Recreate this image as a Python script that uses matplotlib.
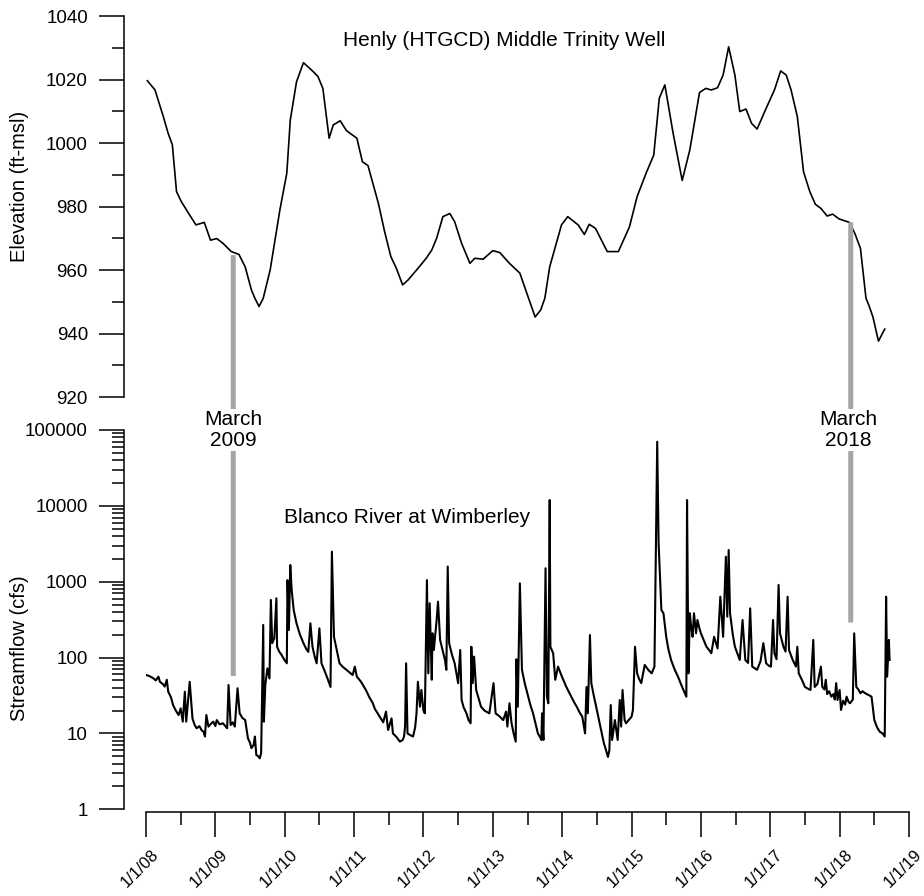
import matplotlib
matplotlib.use("Agg")
import matplotlib.pyplot as plt
import matplotlib.ticker as ticker
import matplotlib.transforms as mtransforms
from matplotlib.patches import ConnectionPatch

plt.rcParams['font.family'] = ['Liberation Sans', 'DejaVu Sans']

# Henly (HTGCD) well, decimal year vs elevation (ft-msl)
well_year = [2008.02, 2008.13, 2008.25, 2008.32, 2008.38, 2008.44, 2008.51, 2008.63, 2008.72, 2008.84,
             2008.93, 2009.02, 2009.11, 2009.23, 2009.34, 2009.43, 2009.52, 2009.57, 2009.63, 2009.69,
             2009.79, 2009.93, 2010.03, 2010.08, 2010.17, 2010.27, 2010.41, 2010.48, 2010.55, 2010.64,
             2010.70, 2010.80, 2010.89, 2011.04, 2011.12, 2011.20, 2011.35, 2011.44, 2011.53, 2011.61,
             2011.70, 2011.78, 2011.92, 2012.04, 2012.12, 2012.19, 2012.28, 2012.38, 2012.45, 2012.55,
             2012.67, 2012.74, 2012.86, 2013.00, 2013.10, 2013.24, 2013.39, 2013.49, 2013.61, 2013.69,
             2013.75, 2013.82, 2013.99, 2014.08, 2014.23, 2014.32, 2014.39, 2014.48, 2014.65, 2014.81,
             2014.97, 2015.08, 2015.21, 2015.32, 2015.40, 2015.48, 2015.60, 2015.73, 2015.84, 2015.98,
             2016.07, 2016.15, 2016.24, 2016.32, 2016.40, 2016.49, 2016.56, 2016.65, 2016.73, 2016.81,
             2016.94, 2017.06, 2017.15, 2017.23, 2017.30, 2017.39, 2017.48, 2017.57, 2017.65, 2017.73,
             2017.82, 2017.90, 2017.99, 2018.14, 2018.22, 2018.30, 2018.38, 2018.42, 2018.48, 2018.56,
             2018.65]
well_elev = [1019.6, 1016.7, 1008.3, 1003.0, 999.4, 984.7, 981.5, 977.3, 974.2, 975.0,
             969.4, 969.9, 968.4, 965.8, 964.9, 961.0, 953.7, 951.1, 948.5, 951.1,
             960.0, 978.9, 990.5, 1007.2, 1019.3, 1025.3, 1022.5, 1020.9, 1017.2, 1001.5,
             1005.7, 1007.0, 1003.9, 1001.5, 994.1, 992.9, 981.0, 972.1, 964.2, 960.5,
             955.3, 956.9, 960.5, 963.7, 966.3, 970.0, 976.8, 977.8, 975.2, 968.4,
             962.1, 963.7, 963.4, 966.1, 965.5, 962.1, 959.0, 952.7, 945.2, 947.4,
             951.1, 961.0, 974.2, 976.8, 974.2, 971.2, 974.4, 973.1, 965.8, 965.8,
             973.6, 983.1, 990.5, 996.2, 1014.1, 1018.3, 1003.0, 988.2, 997.8, 1015.9,
             1017.2, 1016.7, 1017.4, 1021.4, 1030.3, 1021.4, 1009.9, 1010.7, 1006.2, 1004.4,
             1010.9, 1016.7, 1022.7, 1021.4, 1016.7, 1008.3, 990.9, 984.7, 980.7, 979.4,
             977.0, 977.6, 976.1, 975.0, 971.5, 966.8, 951.1, 949.0, 945.2, 937.6,
             941.4]

# Blanco River at Wimberley, decimal year vs streamflow (cfs)
flow_year = [2008.00, 2008.05, 2008.08, 2008.11, 2008.14, 2008.18, 2008.20, 2008.24, 2008.27, 2008.30,
             2008.32, 2008.36, 2008.39, 2008.43, 2008.47, 2008.50, 2008.53, 2008.56, 2008.58, 2008.63,
             2008.67, 2008.70, 2008.73, 2008.77, 2008.80, 2008.83, 2008.85, 2008.87, 2008.90, 2008.94,
             2008.97, 2009.00, 2009.02, 2009.06, 2009.11, 2009.14, 2009.17, 2009.19, 2009.22, 2009.25,
             2009.28, 2009.32, 2009.35, 2009.39, 2009.43, 2009.47, 2009.50, 2009.52, 2009.55, 2009.57,
             2009.59, 2009.62, 2009.64, 2009.66, 2009.69, 2009.70, 2009.72, 2009.75, 2009.78, 2009.80,
             2009.82, 2009.85, 2009.88, 2009.89, 2009.92, 2009.95, 2009.99, 2010.03, 2010.04, 2010.06,
             2010.08, 2010.10, 2010.13, 2010.17, 2010.22, 2010.27, 2010.31, 2010.34, 2010.37, 2010.40,
             2010.43, 2010.46, 2010.50, 2010.53, 2010.58, 2010.62, 2010.66, 2010.68, 2010.71, 2010.74,
             2010.79, 2010.84, 2010.89, 2010.94, 2010.98, 2011.01, 2011.04, 2011.10, 2011.17, 2011.22,
             2011.27, 2011.30, 2011.34, 2011.38, 2011.42, 2011.46, 2011.49, 2011.54, 2011.56, 2011.61,
             2011.66, 2011.70, 2011.72, 2011.735, 2011.75, 2011.77, 2011.81, 2011.85, 2011.88, 2011.90,
             2011.92, 2011.95, 2011.97, 2012.00, 2012.02, 2012.05, 2012.07, 2012.09, 2012.12, 2012.13,
             2012.15, 2012.19, 2012.21, 2012.24, 2012.28, 2012.31, 2012.33, 2012.35, 2012.37, 2012.41,
             2012.45, 2012.50, 2012.53, 2012.55, 2012.58, 2012.62, 2012.65, 2012.68, 2012.69, 2012.71,
             2012.73, 2012.76, 2012.80, 2012.83, 2012.88, 2012.95, 2013.01, 2013.04, 2013.09, 2013.15,
             2013.19, 2013.21, 2013.24, 2013.27, 2013.30, 2013.33, 2013.34, 2013.36, 2013.39, 2013.42,
             2013.46, 2013.50, 2013.54, 2013.58, 2013.62, 2013.65, 2013.68, 2013.70, 2013.71, 2013.73,
             2013.76, 2013.78, 2013.80, 2013.82, 2013.83, 2013.87, 2013.90, 2013.94, 2014.00, 2014.06,
             2014.12, 2014.17, 2014.21, 2014.25, 2014.29, 2014.33, 2014.35, 2014.37, 2014.40, 2014.42,
             2014.46, 2014.49, 2014.53, 2014.57, 2014.60, 2014.63, 2014.66, 2014.68, 2014.70, 2014.72,
             2014.76, 2014.80, 2014.83, 2014.85, 2014.87, 2014.90, 2014.92, 2014.96, 2015.00, 2015.02,
             2015.05, 2015.08, 2015.11, 2015.14, 2015.19, 2015.24, 2015.29, 2015.33, 2015.35, 2015.37,
             2015.39, 2015.43, 2015.46, 2015.50, 2015.53, 2015.57, 2015.62, 2015.67, 2015.72, 2015.77,
             2015.79, 2015.80, 2015.82, 2015.84, 2015.86, 2015.88, 2015.90, 2015.93, 2015.95, 2015.98,
             2016.00, 2016.04, 2016.08, 2016.12, 2016.15, 2016.19, 2016.24, 2016.28, 2016.32, 2016.36,
             2016.38, 2016.40, 2016.42, 2016.46, 2016.49, 2016.53, 2016.56, 2016.60, 2016.64, 2016.68,
             2016.71, 2016.74, 2016.78, 2016.81, 2016.86, 2016.90, 2016.94, 2016.98, 2017.01, 2017.04,
             2017.06, 2017.09, 2017.12, 2017.14, 2017.19, 2017.22, 2017.25, 2017.27, 2017.32, 2017.37,
             2017.39, 2017.41, 2017.46, 2017.50, 2017.54, 2017.58, 2017.62, 2017.64, 2017.68, 2017.73,
             2017.75, 2017.78, 2017.80, 2017.82, 2017.85, 2017.88, 2017.91, 2017.93, 2017.95, 2017.97,
             2018.00, 2018.02, 2018.05, 2018.08, 2018.10, 2018.13, 2018.15, 2018.19, 2018.21, 2018.24,
             2018.27, 2018.30, 2018.33, 2018.37, 2018.42, 2018.46, 2018.50, 2018.54, 2018.58, 2018.62,
             2018.65, 2018.67, 2018.685, 2018.71, 2018.72]
flow_cfs = [59, 57, 55, 53, 50, 56, 48, 45, 41.5, 51,
            35.5, 30, 23.7, 20, 17.5, 21.4, 14.3, 35.5, 14.3, 48,
            15.8, 13, 11.7, 12.5, 11.1, 10.5, 9.1, 17.5, 12.3, 13.5,
            14.3, 12.5, 15, 13.2, 13.6, 12.6, 11.7, 43.5, 12.9, 14,
            12.3, 39.4, 18.4, 16, 15, 8.6, 7.5, 6.4, 7, 9.1,
            5.2, 5.0, 4.7, 5.5, 269, 14.3, 43.5, 72, 53, 575,
            155, 180, 605, 139, 120, 110, 95, 84, 1050, 231,
            1660, 780, 420, 283, 200, 155, 130, 119, 283, 139,
            105, 84, 243, 84, 65, 52, 41, 2490, 188, 139,
            84, 75, 69, 63, 59, 76, 56, 48, 37.4, 30,
            25, 21, 18.4, 16, 14, 19.4, 11.1, 15.8, 10, 9,
            7.8, 8.2, 9.1, 12.3, 84, 10, 9.5, 9.1, 12, 18.4,
            48, 22.5, 37.4, 20, 18.4, 1050, 62, 520, 51, 209,
            126, 313, 546, 171, 120, 93, 69, 1585, 155, 110,
            84, 46, 126, 27.6, 22, 18.4, 15, 13.6, 139, 46,
            103, 37.4, 28, 22.5, 20, 18.4, 46, 18.4, 17, 15,
            19.4, 12.3, 25, 13.6, 10, 7.8, 95, 22.5, 953, 69,
            46, 33, 24, 18.4, 13, 10, 9, 8.2, 18.4, 8.2,
            1503, 30.5, 25, 11940, 139, 114, 51, 76, 55, 41,
            32, 26, 22.5, 19, 16.6, 10, 41, 18.4, 198, 46,
            30, 22.5, 15, 10, 7.5, 6.1, 4.9, 6, 23.7, 8.2,
            15, 8.2, 27.6, 12.3, 37.4, 15, 13.6, 15, 16.6, 20.4,
            139, 62, 52, 46, 80, 69, 62, 76, 2140, 70100,
            3210, 424, 384, 188, 130, 93, 70, 56, 43, 33.8,
            30.5, 11940, 62, 384, 250, 188, 384, 209, 313, 240,
            209, 170, 139, 125, 114, 188, 132, 635, 188, 2140,
            346, 2620, 384, 200, 139, 110, 93, 313, 93, 85,
            446, 76, 72, 69, 90, 155, 84, 78, 76, 313,
            114, 95, 906, 209, 139, 120, 635, 126, 95, 76,
            139, 62, 50, 41, 39, 37.4, 171, 41, 45, 76,
            41, 38, 51, 33, 36, 30.5, 33, 28, 46, 27.6,
            37.4, 20.4, 27, 24, 30.5, 26, 25, 28, 209, 41,
            38, 33.8, 36, 33.8, 32, 30.5, 15, 12, 10.5, 10,
            9.1, 635, 56, 171, 93]

year_ticks = list(range(2008, 2020))
year_labels = ["1/1/%02d" % (y % 100) for y in year_ticks]

# grey "March" markers: year, top end (ft-msl), bottom end (cfs)
mark_year = [2009.258, 2018.16]
mark_top = [964.7, 975.0]
mark_bot = [57, 290]
mark_text = ["March\n2009", "March\n2018"]
mark_text_x = [233, 848]

W, H = 924, 896
GREY = "#a8a3a8"

fig = plt.figure(figsize=(W / 100, H / 100), dpi=100)
ax_top = fig.add_axes([146 / W, 1 - 397 / H, 763 / W, 381 / H])
ax_bot = fig.add_axes([146 / W, 1 - 809.3 / H, 763 / W, 379.3 / H])

# Top: well elevation
ax_top.plot(well_year, well_elev, color="black", lw=1.2)
ax_top.set_xlim(2008, 2019)
ax_top.set_ylim(920, 1040)
for s in ["top", "right", "bottom"]:
    ax_top.spines[s].set_visible(False)
ax_top.spines["left"].set_position(("outward", 15.8))
ax_top.spines["left"].set_linewidth(1.1)
ax_top.set_xticks([])
ax_top.yaxis.set_major_locator(ticker.MultipleLocator(20))
ax_top.yaxis.set_minor_locator(ticker.MultipleLocator(10))
ax_top.tick_params(axis="y", which="major", length=18, width=1.1, pad=8, labelsize=13.5)
ax_top.tick_params(axis="y", which="minor", length=9, width=1.1)
ax_top.set_ylabel("Elevation (ft-msl)", fontsize=14.5)
ax_top.yaxis.set_label_coords(-0.153, 0.5538)
ax_top.text(0.469, 0.937, "Henly (HTGCD) Middle Trinity Well", transform=ax_top.transAxes,
            ha="center", va="center", fontsize=15)

# Bottom: streamflow
ax_bot.plot(flow_year, flow_cfs, color="black", lw=1.5)
ax_bot.set_yscale("log")
ax_bot.set_xlim(2008, 2019)
ax_bot.set_ylim(1, 100000)
for s in ["top", "right"]:
    ax_bot.spines[s].set_visible(False)
ax_bot.spines["left"].set_position(("outward", 15.8))
ax_bot.spines["bottom"].set_position(("outward", 2.2))
ax_bot.spines["left"].set_linewidth(1.1)
ax_bot.spines["bottom"].set_linewidth(1.1)
ax_bot.yaxis.set_major_locator(ticker.LogLocator(base=10, numticks=10))
ax_bot.yaxis.set_minor_locator(ticker.LogLocator(base=10, subs=range(2, 10), numticks=20))
ax_bot.yaxis.set_major_formatter(ticker.FuncFormatter(lambda v, p: "%g" % v))
ax_bot.yaxis.set_minor_formatter(ticker.NullFormatter())
ax_bot.set_xticks(year_ticks)
ax_bot.set_xticklabels(year_labels, rotation=45, ha="center")
ax_bot.set_xticks([y + 0.5 for y in year_ticks[:-1]], minor=True)
ax_bot.tick_params(which="major", length=18, width=1.1)
ax_bot.tick_params(which="minor", length=9, width=1.1)
ax_bot.tick_params(axis="y", which="major", pad=8, labelsize=13.5)
ax_bot.tick_params(axis="x", which="major", pad=7, labelsize=12)
# nudge the slanted date labels a little to the left, as in the source figure
shift = mtransforms.ScaledTranslation(-6 / 100, 0, fig.dpi_scale_trans)
for lab in ax_bot.get_xticklabels():
    lab.set_transform(lab.get_transform() + shift)
ax_bot.set_ylabel("Streamflow (cfs)", fontsize=14.5)
ax_bot.yaxis.set_label_coords(-0.153, 0.425)
ax_bot.text(0.3427, 0.768, "Blanco River at Wimberley", transform=ax_bot.transAxes,
            ha="center", va="center", fontsize=15)

# Grey markers linking both panels
for x, yt, yb, txt, tx in zip(mark_year, mark_top, mark_bot, mark_text, mark_text_x):
    con = ConnectionPatch(xyA=(x, yt), coordsA=ax_top.transData,
                          xyB=(x, yb), coordsB=ax_bot.transData,
                          color=GREY, lw=3.6, capstyle="butt")
    fig.add_artist(con)
    fig.text(tx / W, 1 - 430 / H, txt, ha="center", va="center", fontsize=15,
             linespacing=1.1, zorder=5,
             bbox=dict(facecolor="white", edgecolor="none", pad=1))

fig.savefig("out.png", dpi=100)
